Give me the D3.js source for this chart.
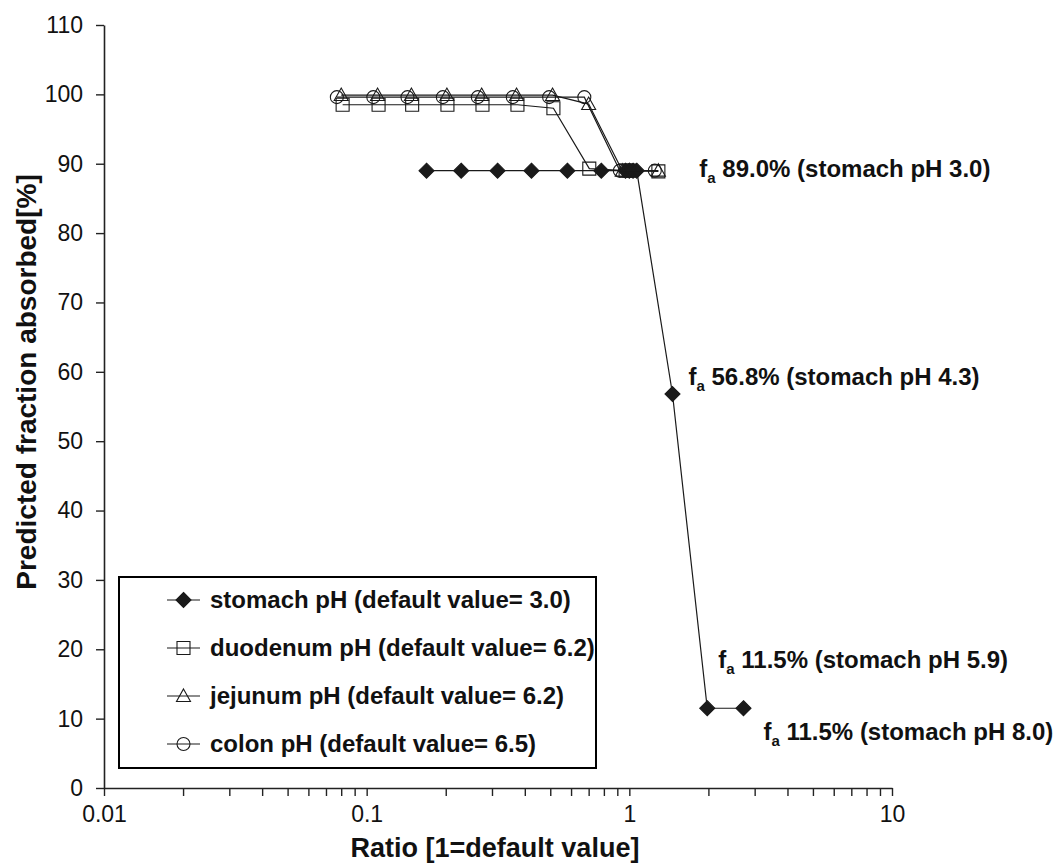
<!DOCTYPE html>
<html>
<head>
<meta charset="utf-8">
<script src="https://cdn.jsdelivr.net/npm/d3@7"></script>
<style>
  body { margin: 0; background: #ffffff; }
  text { font-family: "Liberation Sans", Arial, sans-serif; }
</style>
</head>
<body>
<script>
// chart values
var STOMACH_RATIO = [0.169, 0.229, 0.315, 0.424, 0.581, 0.782, 0.967, 1.0, 1.033, 1.067, 1.46, 1.98, 2.72];
var STOMACH_FA = [89.0, 89.0, 89.0, 89.0, 89.0, 89.0, 89.0, 89.0, 89.0, 89.0, 56.8, 11.5, 11.5];

var DUODENUM_RATIO = [0.081, 0.111, 0.149, 0.203, 0.276, 0.375, 0.514, 0.704, 0.968, 1.0, 1.29];
var DUODENUM_FA = [98.5, 98.5, 98.5, 98.5, 98.5, 98.5, 98.0, 89.3, 89.0, 89.0, 88.9];

var JEJUNUM_RATIO = [0.080, 0.110, 0.148, 0.202, 0.274, 0.372, 0.510, 0.700, 0.940, 1.0, 1.29];
var JEJUNUM_FA = [99.9, 99.9, 99.9, 99.9, 99.9, 99.9, 99.9, 98.6, 89.0, 89.0, 89.0];

var COLON_RATIO = [0.077, 0.106, 0.143, 0.195, 0.265, 0.360, 0.495, 0.674, 0.920, 1.0, 1.25];
var COLON_FA = [99.6, 99.6, 99.6, 99.6, 99.6, 99.6, 99.6, 99.6, 89.0, 89.0, 89.0];

var SERIES_NAMES = ["stomach pH (default value= 3.0)", "duodenum pH (default value= 6.2)",
                    "jejunum pH (default value= 6.2)", "colon pH (default value= 6.5)"];
var SERIES_MARKERS = ["diamond", "square", "triangle", "circle"];

var Y_TICKS = [0, 10, 20, 30, 40, 50, 60, 70, 80, 90, 100, 110];
var X_MAJOR_TICKS = [0.01, 0.1, 1, 10];
var X_TICK_LABELS = ["0.01", "0.1", "1", "10"];

// annotations point at stomach points (index into STOMACH_*)
var ANNOT_VALUE = ["89.0% (stomach pH 3.0)", "56.8% (stomach pH 4.3)", "11.5% (stomach pH 5.9)", "11.5% (stomach pH 8.0)"];
var ANNOT_INDEX = [7, 10, 11, 12];

var X_TITLE = "Ratio [1=default value]";
var Y_TITLE = "Predicted fraction absorbed[%]";

var WIDTH = 1054, HEIGHT = 866;
var X0 = 104, X1 = 892, Y0 = 788, Y1 = 25;
var LINE_COLOR = "#1a1a1a";

var svg, xScale, yScale;

function markerPath(type)
{
  // custom shapes, sizes in px
  if (type == "diamond") return "M0,-7.5L7.5,0L0,7.5L-7.5,0Z";
  if (type == "square") return "M-6.5,-6.5H6.5V6.5H-6.5Z";
  if (type == "triangle") return "M0,-7L7,5.5H-7Z";
  return d3.arc()({innerRadius: 0, outerRadius: 6.5, startAngle: 0, endAngle: 2 * Math.PI});
}

function drawMarker(g, type, x, y)
{
  var m = g.append("path")
      .attr("d", markerPath(type))
      .attr("transform", "translate(" + x + "," + y + ")")
      .attr("stroke", LINE_COLOR)
      .attr("stroke-width", 1.1);
  if (type == "diamond") m.attr("fill", LINE_COLOR);
  else m.attr("fill", "none");
}

function initializeImage()
{
  svg = d3.select("body").append("svg")
      .attr("width", WIDTH)
      .attr("height", HEIGHT);

  svg.append("rect").attr("width", WIDTH).attr("height", HEIGHT).attr("fill", "#ffffff");

  xScale = d3.scaleLog().domain([0.01, 10]).range([X0, X1]);
  yScale = d3.scaleLinear().domain([0, 110]).range([Y0, Y1]);
}

function drawAxes()
{
  // y axis
  var yAxis = svg.append("g")
      .attr("transform", "translate(" + X0 + ",0)")
      .call(d3.axisLeft(yScale).tickValues(Y_TICKS).tickSize(8).tickSizeOuter(0).tickPadding(13));
  yAxis.select(".domain").attr("stroke", "#222").attr("stroke-width", 1.6);
  yAxis.selectAll(".tick line").attr("stroke", "#222").attr("stroke-width", 1.4);
  yAxis.selectAll(".tick text")
      .attr("font-size", 23)
      .attr("fill", "#111")
      .style("font-family", "'Liberation Sans', Arial, sans-serif");

  // x axis, log with minor ticks
  var allTicks = [];
  X_MAJOR_TICKS.forEach(function(t, i)
  {
    allTicks.push(t);
    if (i < X_MAJOR_TICKS.length - 1)
      for (var k = 2; k <= 9; k++) allTicks.push(t * k);
  });

  var xAxis = svg.append("g")
      .attr("transform", "translate(0," + Y0 + ")")
      .call(d3.axisBottom(xScale)
              .tickValues(allTicks)
              .tickSize(8)
              .tickSizeOuter(0)
              .tickPadding(10)
              .tickFormat(function(d)
              {
                var i = X_MAJOR_TICKS.findIndex(function(t) { return Math.abs(t - d) < t * 1e-6; });
                return i >= 0 ? X_TICK_LABELS[i] : "";
              }));
  xAxis.select(".domain").attr("stroke", "#222").attr("stroke-width", 1.6);
  xAxis.selectAll(".tick line").attr("stroke", "#222").attr("stroke-width", 1.4);
  xAxis.selectAll(".tick text")
      .attr("font-size", 23)
      .attr("fill", "#111")
      .style("font-family", "'Liberation Sans', Arial, sans-serif");

  // titles
  svg.append("text")
      .attr("x", 495)
      .attr("y", 857)
      .attr("text-anchor", "middle")
      .attr("font-size", 27)
      .attr("font-weight", "bold")
      .attr("fill", "#111")
      .text(X_TITLE);

  svg.append("text")
      .attr("transform", "translate(36,382) rotate(-90)")
      .attr("text-anchor", "middle")
      .attr("font-size", 28)
      .attr("font-weight", "bold")
      .attr("fill", "#111")
      .text(Y_TITLE);
}

function drawSeries(ratios, values, type)
{
  var pts = ratios.map(function(r, i) { return [xScale(r), yScale(values[i])]; });
  var g = svg.append("g");

  g.append("path")
      .attr("d", d3.line()(pts))
      .attr("fill", "none")
      .attr("stroke", LINE_COLOR)
      .attr("stroke-width", 1.2);

  pts.forEach(function(p) { drawMarker(g, type, p[0], p[1]); });
}

function drawAnnotations()
{
  var offsets = [[70, 6], [16, -9], [11, -40], [20, 32]];
  ANNOT_VALUE.forEach(function(txt, i)
  {
    var k = ANNOT_INDEX[i];
    var t = svg.append("text")
        .attr("x", xScale(STOMACH_RATIO[k]) + offsets[i][0])
        .attr("y", yScale(STOMACH_FA[k]) + offsets[i][1])
        .attr("font-size", 24)
        .attr("font-weight", "bold")
        .attr("fill", "#111");
    t.append("tspan").text("f");
    t.append("tspan").attr("font-size", 15).attr("dy", 6).text("a");
    t.append("tspan").attr("dy", -6).text(" " + txt);
  });
}

function drawLegend()
{
  var g = svg.append("g");
  g.append("rect")
      .attr("x", 119)
      .attr("y", 577)
      .attr("width", 477)
      .attr("height", 191)
      .attr("fill", "#ffffff")
      .attr("stroke", "#000")
      .attr("stroke-width", 2);

  SERIES_NAMES.forEach(function(name, i)
  {
    var cy = 600 + i * 48;
    g.append("line")
        .attr("x1", 167).attr("x2", 200)
        .attr("y1", cy).attr("y2", cy)
        .attr("stroke", LINE_COLOR)
        .attr("stroke-width", 1.2);
    drawMarker(g, SERIES_MARKERS[i], 183.5, cy);
    g.append("text")
        .attr("x", 210)
        .attr("y", cy + 8)
        .attr("font-size", 24)
        .attr("font-weight", "bold")
        .attr("fill", "#111")
        .text(name);
  });
}

function setup()
{
  initializeImage();
  drawAxes();
  drawSeries(STOMACH_RATIO, STOMACH_FA, "diamond");
  drawSeries(DUODENUM_RATIO, DUODENUM_FA, "square");
  drawSeries(JEJUNUM_RATIO, JEJUNUM_FA, "triangle");
  drawSeries(COLON_RATIO, COLON_FA, "circle");
  drawAnnotations();
  drawLegend();
}

setup();
</script>
</body>
</html>
